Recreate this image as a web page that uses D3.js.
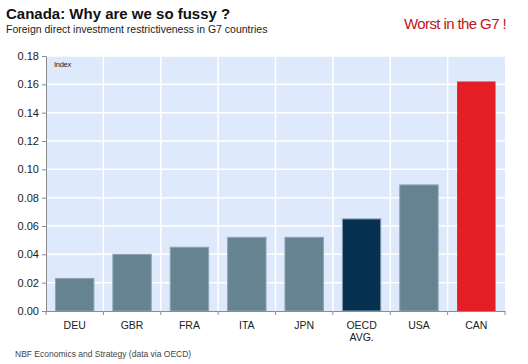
<!DOCTYPE html>
<html>
<head>
<meta charset="utf-8">
<script src="https://cdnjs.cloudflare.com/ajax/libs/d3/7.8.5/d3.min.js"></script>
<style>
  body { margin: 0; background: #fff; }
  text { font-family: Arial, "Liberation Sans", sans-serif; }
</style>
</head>
<body>
<script>
var svgWidth = 528;
var svgHeight = 364;

var countries = ["DEU", "GBR", "FRA", "ITA", "JPN", "OECD AVG.", "USA", "CAN"];
var restrictiveness = [0.023, 0.040, 0.045, 0.052, 0.052, 0.065, 0.089, 0.162];
var yTicks = [0, 0.02, 0.04, 0.06, 0.08, 0.10, 0.12, 0.14, 0.16, 0.18];

var margin = { top: 56, left: 46, right: 23, bottom: 53 };
var plotW = svgWidth - margin.left - margin.right;
var plotH = svgHeight - margin.top - margin.bottom;

var colorFunction = function (d) {
    if (d === "CAN") return "#e31e24";
    if (d === "OECD AVG.") return "#06304f";
    return "#668392";
};

var svg = d3.select("body")
    .append("svg")
    .attr("width", svgWidth)
    .attr("height", svgHeight);

svg.append("text")
    .attr("x", 6).attr("y", 19)
    .attr("font-size", 15).attr("font-weight", "bold")
    .attr("fill", "#111")
    .text("Canada: Why are we so fussy ?");

svg.append("text")
    .attr("x", 6).attr("y", 33)
    .attr("font-size", 10.5)
    .attr("fill", "#222")
    .text("Foreign direct investment restrictiveness in G7 countries");

svg.append("text")
    .attr("x", 404).attr("y", 29)
    .attr("font-size", 15)
    .attr("font-family", "'DejaVu Sans', sans-serif")
    .attr("letter-spacing", -0.6)
    .attr("fill", "#c0151b")
    .text("Worst in the G7 !");

var g = svg.append("g")
    .attr("transform", "translate(" + margin.left + "," + margin.top + ")");

var x = d3.scaleBand().domain(countries).range([0, plotW]).paddingInner(0.33).paddingOuter(0.165);
var xGrid = d3.scaleBand().domain(countries).range([0, plotW]);
var y = d3.scaleLinear().domain([0, 0.18]).range([plotH, 0]);

g.append("rect")
    .attr("width", plotW).attr("height", plotH)
    .attr("fill", "#dee9fb");

// horizontal grid
g.selectAll(".hgrid")
    .data(yTicks.slice(1))
    .enter()
    .append("line")
    .attr("x1", 0).attr("x2", plotW)
    .attr("y1", function (d) { return y(d); })
    .attr("y2", function (d) { return y(d); })
    .attr("stroke", "#fff").attr("stroke-width", 1.5);

// vertical grid at category boundaries
g.selectAll(".vgrid")
    .data(countries.slice(1))
    .enter()
    .append("line")
    .attr("x1", function (d) { return xGrid(d); })
    .attr("x2", function (d) { return xGrid(d); })
    .attr("y1", 0).attr("y2", plotH)
    .attr("stroke", "#fff").attr("stroke-width", 1.5);

g.append("text")
    .attr("x", 8).attr("y", 11)
    .attr("font-size", 7.5).attr("letter-spacing", -0.3)
    .attr("fill", "#222")
    .text("Index");

g.selectAll(".bar")
    .data(countries)
    .enter()
    .append("rect")
    .attr("x", function (d) { return x(d); })
    .attr("y", function (d, i) { return y(restrictiveness[i]); })
    .attr("width", x.bandwidth())
    .attr("height", function (d, i) { return plotH - y(restrictiveness[i]); })
    .attr("fill", colorFunction)
    .attr("stroke", function (d) { return d === "CAN" ? "none" : "#8fa5b3"; })
    .attr("stroke-width", 1);

// y axis
var yAxis = g.append("g")
    .call(d3.axisLeft(y).tickValues(yTicks).tickFormat(d3.format(".2f")).tickSize(4));
yAxis.select(".domain").attr("stroke", "#8c8c8c");
yAxis.selectAll(".tick line").attr("stroke", "#8c8c8c");
yAxis.selectAll("text").attr("font-size", 11).attr("fill", "#222")
    .attr("font-family", "Arial, 'Liberation Sans', sans-serif");

// x axis
var xAxis = g.append("g")
    .attr("transform", "translate(0," + plotH + ")")
    .call(d3.axisBottom(xGrid).tickSize(0).tickFormat(""));
xAxis.select(".domain").attr("stroke", "#8c8c8c");
xAxis.selectAll(".tick").remove();

g.selectAll(".xtick")
    .data(countries.concat(["end"]))
    .enter()
    .append("line")
    .attr("x1", function (d, i) { return i * xGrid.step(); })
    .attr("x2", function (d, i) { return i * xGrid.step(); })
    .attr("y1", plotH).attr("y2", plotH + 4)
    .attr("stroke", "#8c8c8c");

var labels = g.selectAll(".xlabel")
    .data(countries)
    .enter()
    .append("text")
    .attr("text-anchor", "middle")
    .attr("font-size", 10.5)
    .attr("fill", "#222")
    .attr("transform", function (d) {
        return "translate(" + (xGrid(d) + xGrid.bandwidth() / 2) + "," + (plotH + 18) + ")";
    });
labels.each(function (d) {
    var parts = d.split(" ");
    var t = d3.select(this);
    parts.forEach(function (p, i) {
        t.append("tspan").attr("x", 0).attr("dy", i === 0 ? 0 : 12).text(p);
    });
});

svg.append("text")
    .attr("x", 15).attr("y", 357)
    .attr("font-size", 8.5)
    .attr("fill", "#444")
    .text("NBF Economics and Strategy (data via OECD)");
</script>
</body>
</html>
